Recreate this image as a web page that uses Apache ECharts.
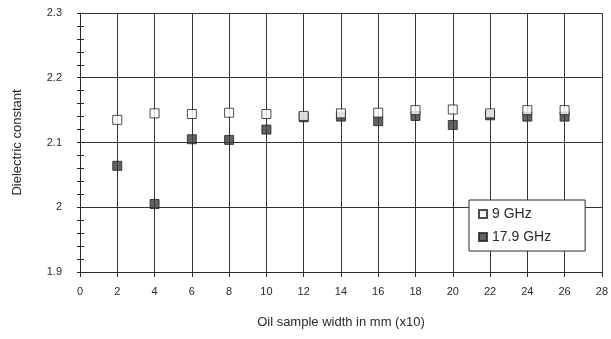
<!DOCTYPE html>
<html>
<head>
<meta charset="utf-8">
<script src="https://cdn.jsdelivr.net/npm/echarts@6/dist/echarts.min.js"></script>
<style>
  html, body { margin: 0; padding: 0; background: #fff; }
  #chart { width: 611px; height: 339px; }
</style>
</head>
<body>
<div id="chart"></div>
<script>
const widths = [2, 4, 6, 8, 10, 12, 14, 16, 18, 20, 22, 24, 26];
const ghz9 = [2.135, 2.145, 2.144, 2.146, 2.144, 2.141, 2.145, 2.146, 2.150, 2.151, 2.145, 2.150, 2.150];
const ghz179 = [2.064, 2.005, 2.105, 2.104, 2.120, 2.139, 2.140, 2.133, 2.141, 2.127, 2.142, 2.140, 2.140];
const seriesNames = ['9 GHz', '17.9 GHz'];

const font = 'Liberation Sans, Arial, sans-serif';
const ink = '#2a2a2a';

const chart = echarts.init(document.getElementById('chart'));

const pairs = (vals) => widths.map((w, i) => [w, vals[i]]);

// second y axis only draws the outer half of the cross ticks
const yBase = { type: 'value', min: 1.9, max: 2.3, interval: 0.1 };

chart.setOption({
    backgroundColor: '#fff',
    animation: false,
    grid: { left: 80, right: 6, top: 13, bottom: 67 },
    xAxis: {
        type: 'value',
        min: 0,
        max: 28,
        interval: 2,
        name: 'Oil sample width in mm (x10)',
        nameLocation: 'middle',
        nameGap: 44,
        nameTextStyle: { fontFamily: font, fontSize: 13, color: ink },
        axisLine: { lineStyle: { color: ink, width: 1 } },
        axisTick: { show: true, length: 5, lineStyle: { color: ink } },
        axisLabel: { fontFamily: font, fontSize: 11, color: ink, margin: 14 },
        splitLine: { show: true, lineStyle: { color: '#333', width: 1 } },
    },
    yAxis: [
        {
            ...yBase,
            name: 'Dielectric constant',
            nameLocation: 'middle',
            nameGap: 56,
            nameTextStyle: { fontFamily: font, fontSize: 13, color: ink },
            axisLine: { show: true, lineStyle: { color: ink, width: 1 } },
            axisTick: { show: true, inside: true, length: 4, lineStyle: { color: ink } },
            minorTick: { show: true, splitNumber: 5, length: 4, lineStyle: { color: ink } },
            axisLabel: {
                fontFamily: font, fontSize: 11, color: ink, margin: 18,
                formatter: (v) => String(Math.round(v * 10) / 10),
            },
            splitLine: { show: true, lineStyle: { color: '#333', width: 1 } },
        },
        {
            ...yBase,
            position: 'left',
            axisLine: { show: false },
            axisTick: { show: true, inside: false, length: 3, lineStyle: { color: ink } },
            minorTick: { show: true, splitNumber: 5, length: 3, lineStyle: { color: ink } },
            axisLabel: { show: false },
            splitLine: { show: false },
        },
    ],
    legend: {
        orient: 'vertical',
        left: 469,
        top: 200,
        itemWidth: 8,
        itemHeight: 8,
        itemGap: 9,
        padding: [7, 34, 7, 9],
        backgroundColor: '#fff',
        borderColor: ink,
        borderWidth: 1,
        textStyle: { fontFamily: font, fontSize: 14, color: ink },
        data: seriesNames,
    },
    series: [
        {
            name: seriesNames[1],
            type: 'scatter',
            symbol: 'rect',
            symbolSize: 9,
            data: pairs(ghz179),
            itemStyle: { color: '#3c3c3c', borderColor: '#222', borderWidth: 1 },
            z: 3,
        },
        {
            name: seriesNames[0],
            type: 'scatter',
            symbol: 'rect',
            symbolSize: 9,
            data: pairs(ghz9),
            itemStyle: { color: '#fff', borderColor: '#222', borderWidth: 1 },
            z: 4,
        },
    ],
});
</script>
</body>
</html>
